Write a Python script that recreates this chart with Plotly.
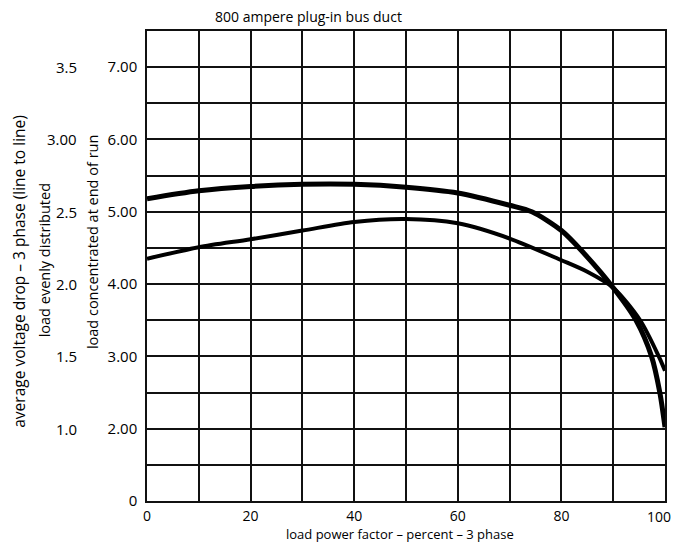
import plotly.graph_objects as go

# Load power factor (percent)
pf_upper = [0, 10, 20, 30, 40, 50, 60, 70, 74.3, 80, 84.3, 90, 94.4, 97.4, 99, 100]
drop_upper = [5.18, 5.29, 5.35, 5.38, 5.38, 5.34, 5.26, 5.09, 5.0, 4.74, 4.43, 3.95, 3.5, 3.0, 2.5, 2.02]

pf_lower = [0, 10, 20, 30, 40, 50, 60, 70, 80, 85, 90, 95.2, 98.8, 100]
drop_lower = [4.35, 4.51, 4.62, 4.74, 4.86, 4.90, 4.84, 4.63, 4.33, 4.17, 3.95, 3.5, 3.0, 2.8]

# axis ticks (concentrated-load scale; bottom row of the chart is labelled 0)
x_ticks = [0, 10, 20, 30, 40, 50, 60, 70, 80, 90, 100]
x_ticktext = ["0", "", "20", "", "40", "", "60", "", "80", "", ""]
x_last_label = "100"   # drawn separately so it is not clipped at the right edge
y_ticks = [1.0, 1.5, 2.0, 2.5, 3.0, 3.5, 4.0, 4.5, 5.0, 5.5, 6.0, 6.5, 7.0, 7.5]
y_ticktext = ["0", "", "2.00", "", "3.00", "", "4.00", "", "5.00", "", "6.00", "", "7.00", ""]
# evenly distributed scale (half of concentrated)
dist_pos = [2.0, 3.0, 4.0, 5.0, 6.0, 7.0]
dist_text = ["1.0", "1.5", "2.0", "2.5", "3.00", "3.5"]

FONT = "Open Sans"
INK = "#000000"
GRID = "#111111"

fig = go.Figure()
fig.add_trace(go.Scatter(x=pf_upper, y=drop_upper, mode="lines",
                         line=dict(color=INK, width=5, shape="spline", smoothing=0.8),
                         showlegend=False, hoverinfo="skip"))
fig.add_trace(go.Scatter(x=pf_lower, y=drop_lower, mode="lines",
                         line=dict(color=INK, width=4, shape="spline", smoothing=0.8),
                         showlegend=False, hoverinfo="skip"))

annotations = []
for p, t in zip(dist_pos, dist_text):
    annotations.append(dict(x=-0.131, xref="paper", y=p, yref="y", text=t,
                            xanchor="right", yanchor="middle", showarrow=False,
                            font=dict(family=FONT, size=15, color=INK)))

annotations += [
    dict(x=1.0154, xref="paper", y=-0.034, yref="paper", text=x_last_label,
         xanchor="right", yanchor="middle", showarrow=False,
         font=dict(family=FONT, size=14, color=INK)),
    dict(x=0.3115, y=1.03, xref="paper", yref="paper", showarrow=False,
         text="800 ampere plug-in bus duct", font=dict(family=FONT, size=14, color=INK),
         xanchor="center", yanchor="middle"),
    dict(x=0.488, y=-0.0702, xref="paper", yref="paper", showarrow=False,
         text="load power factor – percent – 3 phase", font=dict(family=FONT, size=13, color=INK),
         xanchor="center", yanchor="middle"),
    dict(x=-0.246, y=0.489, xref="paper", yref="paper", showarrow=False, textangle=-90,
         text="average voltage drop – 3 phase (line to line)", font=dict(family=FONT, size=15.5, color=INK),
         xanchor="center", yanchor="middle"),
    dict(x=-0.198, y=0.513, xref="paper", yref="paper", showarrow=False, textangle=-90,
         text="load evenly distributed", font=dict(family=FONT, size=14.5, color=INK),
         xanchor="center", yanchor="middle"),
    dict(x=-0.106, y=0.551, xref="paper", yref="paper", showarrow=False, textangle=-90,
         text="load concentrated at end of run", font=dict(family=FONT, size=14.5, color=INK),
         xanchor="center", yanchor="middle"),
]

# the page body keeps its default 8px margin, so the figure is sized to fit inside it
fig.update_layout(
    width=668, height=534,
    margin=dict(l=139, r=9, t=23, b=41),
    paper_bgcolor="white", plot_bgcolor="white",
    font=dict(family=FONT, size=14, color=INK),
    annotations=annotations,
    xaxis=dict(range=[0, 100], tickvals=x_ticks, ticktext=x_ticktext,
               showgrid=True, gridcolor=GRID, gridwidth=1.5,
               showline=True, linecolor=GRID, linewidth=1.5, mirror=True,
               zeroline=False, ticks="", ticklabelstandoff=1,
               tickfont=dict(family=FONT, size=14, color=INK)),
    yaxis=dict(range=[1.0, 7.5], tickvals=y_ticks, ticktext=y_ticktext,
               showgrid=True, gridcolor=GRID, gridwidth=1.5,
               showline=True, linecolor=GRID, linewidth=1.5, mirror=True,
               zeroline=False, ticks="", ticklabelstandoff=5,
               tickfont=dict(family=FONT, size=15, color=INK)),
)

fig.write_html("out.html")
